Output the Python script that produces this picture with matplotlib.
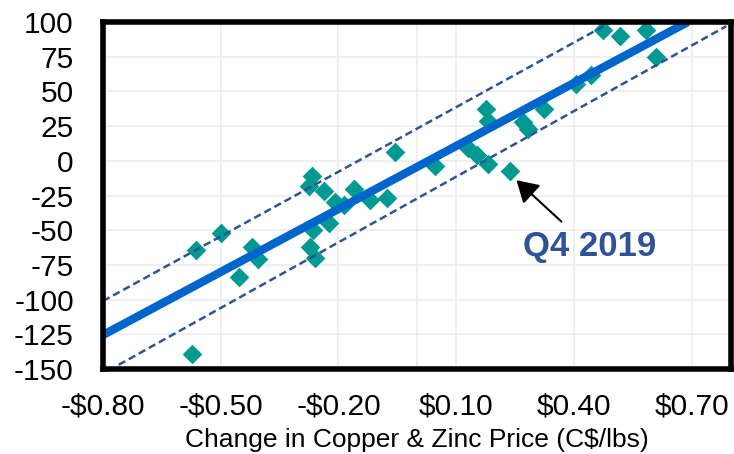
import numpy as np
import matplotlib
matplotlib.use("Agg")
import matplotlib.pyplot as plt
from matplotlib.ticker import FuncFormatter

plt.rcParams['font.family'] = ['Liberation Sans', 'DejaVu Sans']

# change in copper & zinc price (C$/lbs) vs. y value
price_chg = [-0.564, -0.499, -0.420, -0.406, -0.454, -0.573,
             -0.268, -0.276, -0.238, -0.208, -0.187, -0.160, -0.120, -0.077, -0.056,
             -0.225, -0.264, -0.272, -0.259,
             0.046, 0.130, 0.152, 0.181, 0.177, 0.181, 0.270, 0.283, 0.323,
             0.406, 0.444, 0.474, 0.516, 0.584, 0.609, 0.236]
value = [-64, -52, -62, -71, -84, -139,
         -11, -18, -22, -30, -32, -20, -28, -27, 6,
         -45, -50, -62, -70,
         -4, 9, 4, -2, 37, 29, 28, 23, 37,
         55, 62, 94, 90, 94, 75, -7]

# regression line and band (end points)
fit_x = [-0.80, 0.69]
fit_y = [-125.5, 100]
upper_x = [-0.80, 0.495]
upper_y = [-101, 100]
lower_x = [-0.76, 0.788]
lower_y = [-147, 97]

xticks = [-0.80, -0.50, -0.20, 0.10, 0.40, 0.70]
yticks = [100, 75, 50, 25, 0, -25, -50, -75, -100, -125, -150]

q4_point = (0.2535, -14)
q4_text = (0.368, -43.8)
q4_label_pos = (0.44, -62)

fig = plt.figure(figsize=(7.34, 4.54), dpi=100)
ax = fig.add_axes([0.1403, 0.1872, 0.8556, 0.7643])

grid_c = '#ebebeb'
for xt in xticks:
    ax.axvline(xt, color=grid_c, lw=1.1, zorder=0)
for yt in yticks:
    ax.axhline(yt, color=grid_c, lw=1.1, zorder=0)
ax.axvline(0, color=grid_c, lw=1.1, zorder=0)

ax.scatter(price_chg, value, marker='D', s=10**2, color='#009a93',
           linewidths=0, zorder=2)

ax.plot(fit_x, fit_y, color='#0066cc', lw=6, solid_capstyle='butt', zorder=3)
ax.plot(upper_x, upper_y, color='#2f5496', lw=1.8, dashes=(3, 1.6), zorder=3)
ax.plot(lower_x, lower_y, color='#2f5496', lw=1.8, dashes=(3, 1.6), zorder=3)

ax.annotate('', xy=q4_point, xytext=q4_text,
            arrowprops=dict(arrowstyle='-|>,head_length=0.5,head_width=0.3',
                            color='black', lw=1.5,
                            mutation_scale=26, shrinkA=0, shrinkB=0), zorder=4)
ax.text(q4_label_pos[0], q4_label_pos[1], 'Q4 2019', color='#2f5496',
        fontsize=25, fontweight='bold', ha='center', va='center', zorder=4)

ax.set_xlim(-0.80, 0.80)
ax.set_ylim(-150, 100)
ax.set_xticks(xticks)
ax.set_yticks(yticks)
ax.xaxis.set_major_formatter(FuncFormatter(
    lambda v, p: ('-$%.2f' % abs(v)) if v < 0 else ('$%.2f' % v)))
ax.yaxis.set_major_formatter(FuncFormatter(lambda v, p: '%d' % v))
ax.tick_params(axis='both', length=0, labelsize=21.5)
ax.tick_params(axis='y', pad=21)
ax.tick_params(axis='x', pad=17)

for s in ax.spines.values():
    s.set_linewidth(4)
    s.set_color('black')
    s.set_zorder(5)

ax.set_xlabel('Change in Copper & Zinc Price (C$/lbs)', fontsize=19, labelpad=5)

fig.savefig('out.png', dpi=100)
